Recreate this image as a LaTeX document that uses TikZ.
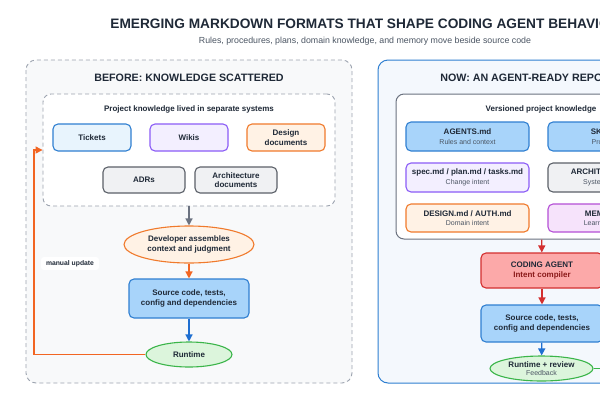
\documentclass[tikz,border=0pt]{standalone}
\usepackage{fontspec}
\setmainfont{Liberation Sans}
\usetikzlibrary{arrows.meta,shapes.geometric}
\definecolor{ink}{HTML}{1F2937}
\definecolor{subgray}{HTML}{4B5563}
\definecolor{blueline}{HTML}{2F7FD1}
\definecolor{bluefill}{HTML}{E8F4FD}
\definecolor{bluestrong}{HTML}{A8D4FA}
\definecolor{purpleline}{HTML}{8B5CF6}
\definecolor{purplefill}{HTML}{F3EFFF}
\definecolor{orangeline}{HTML}{F07A2C}
\definecolor{orangefill}{HTML}{FFF2E5}
\definecolor{grayline}{HTML}{5B6068}
\definecolor{grayfill}{HTML}{F0F1F3}
\definecolor{magline}{HTML}{B44FD6}
\definecolor{magfill}{HTML}{F6E3FB}
\definecolor{redline}{HTML}{D32F2F}
\definecolor{redfill}{HTML}{FCA9A9}
\definecolor{darkred}{HTML}{8B1A1A}
\definecolor{greenline}{HTML}{3BB54A}
\definecolor{greenfill}{HTML}{DCF5DC}
\definecolor{panelfill}{HTML}{F8F9FA}
\definecolor{panelline}{HTML}{9CA3AF}
\definecolor{nowfill}{HTML}{F4F8FD}
\definecolor{groupline}{HTML}{6B7280}
\definecolor{arrgray}{HTML}{6B7280}
\definecolor{arrorange}{HTML}{F26522}
\definecolor{arrblue}{HTML}{1F6FD1}
\newcommand{\subline}[1]{{\normalfont\fontsize{7}{8.4}\selectfont\color{subgray}#1}}

\tikzset{
  every node/.style={text=ink},
  box/.style={draw, rounded corners=5pt, line width=1.1pt, minimum width=78pt,
    minimum height=27pt, inner sep=0pt, align=center,
    font=\bfseries\fontsize{8}{9.6}\selectfont},
  bluebox/.style={box, draw=blueline, fill=bluefill},
  srcbox/.style={box, draw=blueline, fill=bluestrong},
  purplebox/.style={box, draw=purpleline, fill=purplefill},
  orangebox/.style={box, draw=orangeline, fill=orangefill},
  graybox/.style={box, draw=grayline, fill=grayfill},
  magbox/.style={box, draw=magline, fill=magfill},
  redbox/.style={box, draw=redline, fill=redfill},
  oval/.style={ellipse, draw, line width=1.1pt, inner sep=0pt, align=center,
    font=\bfseries\fontsize{8}{9.6}\selectfont},
  paneltitle/.style={font=\bfseries\fontsize{10.7}{12}\selectfont},
  grouptitle/.style={font=\bfseries\fontsize{8}{9.6}\selectfont},
  arr/.style={line width=1.3pt, -{Triangle[length=7pt,width=7pt]}},
}

\begin{document}
\begin{tikzpicture}[x=1pt,y=-1pt]
\useasboundingbox (0,0) rectangle (600,400);
\clip (0,0) rectangle (600,400);
\fill[white] (0,0) rectangle (600,400);

% heading
\node[font=\bfseries\fontsize{13.7}{16}\selectfont] (title) at (365,24)
  {EMERGING MARKDOWN FORMATS THAT SHAPE CODING AGENT BEHAVIOR};
\node[font=\fontsize{8.8}{10}\selectfont, text=subgray] (subtitle) at (365,41)
  {Rules, procedures, plans, domain knowledge, and memory move beside source code};

% before
\draw[panelline, fill=panelfill, dashed, dash pattern=on 4pt off 3pt, line width=0.9pt,
  rounded corners=10pt] (26,60) rectangle (352,383);
\node[paneltitle] (beforetitle) at (189,78) {BEFORE: KNOWLEDGE SCATTERED};
\node[draw=panelline, fill=white, dashed, dash pattern=on 4pt off 3pt, line width=0.9pt,
  rounded corners=8pt, minimum width=292pt, minimum height=112pt] (leftgroup) at (189,150) {};
\node[grouptitle] (lefthead) at (189,109) {Project knowledge lived in separate systems};
\node[bluebox] (tickets) at (92,137.5) {Tickets};
\node[purplebox] (wikis) at (189,137.5) {Wikis};
\node[orangebox] (design) at (286,137.5) {Design\\documents};
\node[graybox, minimum width=82pt, minimum height=26pt] (adrs) at (144,180) {ADRs};
\node[graybox, minimum width=82pt, minimum height=26pt] (archdocs) at (236,180) {Architecture\\documents};
\node[oval, draw=orangeline, fill=orangefill, minimum width=130pt, minimum height=37pt]
  (dev) at (189,244.5) {Developer assembles\\context and judgment};
\node[srcbox, minimum width=120pt, minimum height=39pt] (srcL) at (189,298.5)
  {Source code, tests,\\config and dependencies};
\node[oval, draw=greenline, fill=greenfill, minimum width=86pt, minimum height=25pt]
  (runL) at (189,354.5) {Runtime};
\node[fill=white, rounded corners=3pt, minimum width=58pt, minimum height=13pt, inner sep=0pt,
  font=\bfseries\fontsize{6.8}{8}\selectfont] (manual) at (70,263.5) {manual update};
\coordinate (loopturn) at (34,150);

\draw[arr, arrgray] (leftgroup) -- (dev);
\draw[arr, arrorange] (dev) -- (srcL);
\draw[arr, arrblue] (srcL) -- (runL);
\draw[arr, arrorange] (runL.west) -| (loopturn) -- (loopturn -| leftgroup.west);

% now
\draw[blueline, fill=nowfill, line width=1pt, rounded corners=10pt] (378,60) rectangle (704,383);
\node[paneltitle] (nowtitle) at (541,78) {NOW: AN AGENT-READY REPOSITORY};
\node[draw=groupline, fill=white, line width=1pt, rounded corners=8pt,
  minimum width=290pt, minimum height=145pt] (rightgroup) at (541,166.5) {};
\node[grouptitle] (righthead) at (541,109) {Versioned project knowledge};
\node[srcbox, minimum width=123pt, minimum height=29pt] (agents) at (467.5,136.5)
  {AGENTS.md\\\subline{Rules and context}};
\node[srcbox, minimum width=123pt, minimum height=29pt] (skills) at (609.5,136.5)
  {SKILL.md\\\subline{Procedures}};
\node[purplebox, minimum width=123pt, minimum height=29pt] (spec) at (467.5,177.5)
  {spec.md / plan.md / tasks.md\\\subline{Change intent}};
\node[graybox, minimum width=123pt, minimum height=29pt] (arch) at (609.5,177.5)
  {ARCHITECTURE.md\\\subline{System structure}};
\node[orangebox, minimum width=123pt, minimum height=28pt] (domain) at (467.5,218)
  {DESIGN.md / AUTH.md\\\subline{Domain intent}};
\node[magbox, minimum width=123pt, minimum height=28pt] (memory) at (609.5,218)
  {MEMORY.md\\\subline{Learned lessons}};
\node[redbox, minimum width=122pt, minimum height=35pt] (agent) at (542,270.5)
  {CODING AGENT\\\textcolor{darkred}{Intent compiler}};
\node[srcbox, minimum width=122pt, minimum height=37pt] (srcR) at (542,323.5)
  {Source code, tests,\\config and dependencies};
\node[oval, draw=greenline, fill=greenfill, minimum width=103pt, minimum height=25pt]
  (runR) at (541.5,368.5) {Runtime + review\\[-1pt]\subline{Feedback}};
\coordinate (feedout) at (720,368.5);

\draw[arr, redline] (rightgroup) -- (agent);
\draw[arr, redline] (agent) -- (srcR);
\draw[arr, arrblue] (srcR) -- (runR);
\draw[greenline, line width=1.3pt] (runR.east) -- (feedout);
\end{tikzpicture}
\end{document}
